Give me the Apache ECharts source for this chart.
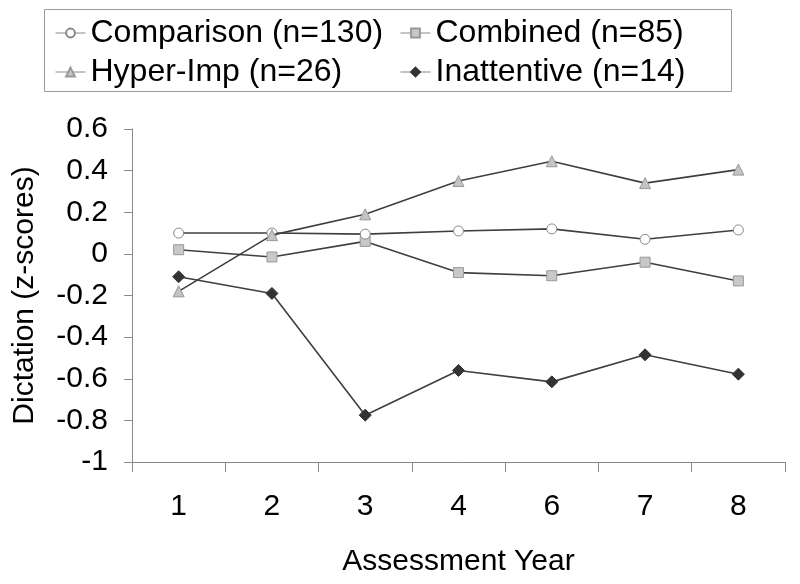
<!DOCTYPE html>
<html>
<head>
<meta charset="utf-8">
<script src="https://cdn.jsdelivr.net/npm/echarts@6/dist/echarts.min.js"></script>
<style>html,body{margin:0;padding:0;background:#fff}#c{width:800px;height:584px}</style>
</head>
<body>
<div id="c"></div>
<script>
var categories = ['1', '2', '3', '4', '6', '7', '8'];
var comparison = [0.10, 0.10, 0.095, 0.11, 0.12, 0.07, 0.115];
var combined = [0.02, -0.015, 0.06, -0.09, -0.105, -0.04, -0.13];
var hyperImp = [-0.18, 0.09, 0.19, 0.35, 0.445, 0.34, 0.405];
var inattentive = [-0.11, -0.19, -0.775, -0.56, -0.615, -0.485, -0.578];
var seriesNames = ['Comparison (n=130)', 'Combined (n=85)', 'Hyper-Imp (n=26)', 'Inattentive (n=14)'];
var yTicks = { min: -1, max: 0.6, interval: 0.2 };

var FONT = 'Liberation Sans, Arial, sans-serif';
var chart = echarts.init(document.getElementById('c'), null, { renderer: 'canvas' });

function legendAt(name, left, top) {
  return {
    data: [name], left: left, top: top, padding: 0,
    itemWidth: 30, itemHeight: 11, selectedMode: false,
    textStyle: { fontFamily: FONT, fontSize: 32, color: '#000', lineHeight: 36 },
    lineStyle: { color: '#888', width: 1 }
  };
}

var lineStyle = { color: '#3f3f3f', width: 1.6 };

chart.setOption({
  animation: false,
  backgroundColor: '#fff',
  graphic: [{
    type: 'rect', shape: { x: 44.5, y: 9.5, width: 687, height: 82 },
    style: { fill: 'none', stroke: '#999', lineWidth: 1 }, z: -1
  }],
  legend: [
    legendAt(seriesNames[0], 55, 15),
    legendAt(seriesNames[1], 400, 15),
    legendAt(seriesNames[2], 55, 54),
    legendAt(seriesNames[3], 400, 54)
  ],
  grid: { left: 132, right: 15, top: 129, bottom: 122, containLabel: false },
  xAxis: {
    type: 'category', data: categories, boundaryGap: true,
    name: 'Assessment Year', nameLocation: 'middle', nameGap: 85,
    nameTextStyle: { fontFamily: FONT, fontSize: 30, color: '#000' },
    axisLine: { onZero: false, lineStyle: { color: '#888', width: 1 } },
    axisTick: { show: true, length: 10, inside: false, alignWithLabel: false, lineStyle: { color: '#888' } },
    axisLabel: { fontFamily: FONT, fontSize: 30, color: '#000', margin: 30 },
    splitLine: { show: false }
  },
  yAxis: {
    type: 'value', min: yTicks.min, max: yTicks.max, interval: yTicks.interval,
    name: 'Dictation (z-scores)', nameLocation: 'middle', nameGap: 92, nameRotate: 90,
    nameTextStyle: { fontFamily: FONT, fontSize: 30, color: '#000' },
    axisLine: { show: true, lineStyle: { color: '#888', width: 1 } },
    axisTick: { show: true, length: 8, inside: false, lineStyle: { color: '#888' } },
    axisLabel: { fontFamily: FONT, fontSize: 30, color: '#000', margin: 24,
      formatter: function (v) { return String(Math.round(v * 10) / 10); } },
    splitLine: { show: false }
  },
  series: [
    { name: seriesNames[0], type: 'line', data: comparison, symbol: 'circle', symbolSize: 10,
      lineStyle: lineStyle, itemStyle: { color: '#fff', borderColor: '#888', borderWidth: 1 }, z: 4 },
    { name: seriesNames[1], type: 'line', data: combined, symbol: 'rect', symbolSize: 10,
      lineStyle: lineStyle, itemStyle: { color: '#c8c8c8', borderColor: '#999', borderWidth: 1 }, z: 3 },
    { name: seriesNames[2], type: 'line', data: hyperImp, symbol: 'triangle', symbolSize: 11,
      lineStyle: lineStyle, itemStyle: { color: '#c4c4c4', borderColor: '#999', borderWidth: 1 }, z: 5 },
    { name: seriesNames[3], type: 'line', data: inattentive, symbol: 'diamond', symbolSize: 12,
      lineStyle: lineStyle, itemStyle: { color: '#333', borderColor: '#333', borderWidth: 1 }, z: 2 }
  ]
});
</script>
</body>
</html>
